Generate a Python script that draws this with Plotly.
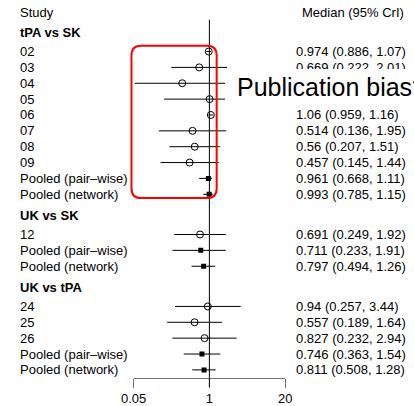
import math
import plotly.graph_objects as go

# ---- data -------------------------------------------------------------
group_names = ["tPA vs SK", "UK vs SK", "UK vs tPA"]
row_labels = [
    "02", "03", "04", "05", "06", "07", "08", "09",
    "Pooled (pair–wise)", "Pooled (network)",
    "12", "Pooled (pair–wise)", "Pooled (network)",
    "24", "25", "26", "Pooled (pair–wise)", "Pooled (network)",
]
row_group = [0] * 10 + [1] * 3 + [2] * 5
median = [0.974, 0.669, 0.342, 1.01, 1.06, 0.514, 0.56, 0.457, 0.961, 0.993,
          0.691, 0.711, 0.797,
          0.94, 0.557, 0.827, 0.746, 0.811]
lower = [0.886, 0.222, 0.0523, 0.167, 0.959, 0.136, 0.207, 0.145, 0.668, 0.785,
         0.249, 0.233, 0.494,
         0.257, 0.189, 0.232, 0.363, 0.508]
upper = [1.07, 2.01, 2.25, 6.08, 1.16, 1.95, 1.51, 1.44, 1.11, 1.15,
         1.92, 1.91, 1.26,
         3.44, 1.64, 2.94, 1.54, 1.28]
tick_values = [0.05, 1, 20]
tick_labels = ["0.05", "1", "20"]

# ---- layout constants ------------------------------------------------
W, H = 414, 406
FONT = "Liberation Sans, Arial, Helvetica, sans-serif"
UNIT_PX = 16.1          # pixel height of one row
FIRST_ROW_PX = 52.3     # pixel position of the first row
AXIS_PX = 383.3         # pixel position of the x axis line
GROUP_GAP = 2.535
HEADER_OFFSET = 1.17
TITLE_OFFSET = 1.3


def fmt(v):
    return f"{v:.3g}"


def px_x(px):
    return px / W


def px_y(py):
    return 1 - py / H


# row positions (in row units, growing downwards)
ypos, header_y = [], {}
prev = None
y = 0.0
for g in row_group:
    if prev is None:
        y = 0.0
    elif g != prev:
        y += GROUP_GAP
    else:
        y += 1.0
    if g != prev:
        header_y[g] = y - HEADER_OFFSET
    ypos.append(y)
    prev = g
title_y = header_y[0] - TITLE_OFFSET

pooled = [lab.startswith("Pooled") for lab in row_labels]

fig = go.Figure()

# credible interval whiskers
xs, ys = [], []
for lo, hi, yy in zip(lower, upper, ypos):
    xs += [lo, hi, None]
    ys += [yy, yy, None]
fig.add_trace(go.Scatter(x=xs, y=ys, mode="lines",
                         line=dict(color="black", width=1),
                         hoverinfo="skip", showlegend=False))

# study estimates (open circles) and pooled estimates (filled squares)
fig.add_trace(go.Scatter(
    x=[m for m, p in zip(median, pooled) if not p],
    y=[yy for yy, p in zip(ypos, pooled) if not p],
    mode="markers",
    marker=dict(symbol="circle-open", size=7, color="black",
                line=dict(width=1, color="black")),
    showlegend=False))
fig.add_trace(go.Scatter(
    x=[m for m, p in zip(median, pooled) if p],
    y=[yy for yy, p in zip(ypos, pooled) if p],
    mode="markers",
    marker=dict(symbol="square", size=5, color="black"),
    showlegend=False))

annotations = []


def label(text, xp, yy, anchor="left", bold=False, yref="y", size=13):
    annotations.append(dict(
        text=f"<b>{text}</b>" if bold else text,
        x=xp, xref="paper", y=yy, yref=yref,
        xanchor=anchor, yanchor="middle", showarrow=False,
        font=dict(family=FONT, size=size, color="black")))


label("Study", px_x(5.5), title_y)
label("Median (95% CrI)", px_x(413), title_y, anchor="right")
for g, name in enumerate(group_names):
    label(name, px_x(5.5), header_y[g], bold=True)
for lab, m, lo, hi, yy in zip(row_labels, median, lower, upper, ypos):
    label(lab, px_x(5.5), yy)
    label(f"{fmt(m)} ({fmt(lo)}, {fmt(hi)})", px_x(295), yy)

# call-out: white panel drawn over the rows, then its caption
annotations.append(dict(
    text=" ", x=px_x(223), xref="paper", y=px_y(70.5), yref="paper",
    xanchor="left", yanchor="top", showarrow=False,
    width=200, height=37.5, bgcolor="white", borderpad=0, borderwidth=0,
    font=dict(family=FONT, size=10, color="white")))
annotations.append(dict(
    text="Publication bias?", x=px_x(234), xref="paper",
    y=px_y(88.5), yref="paper", xanchor="left", yanchor="middle",
    showarrow=False, borderpad=0,
    font=dict(family=FONT, size=25, color="black")))

# rounded highlight around the tPA vs SK block
x0, x1, y0, y1, r = 124.5, 214.0, 46.5, 201.0, 10.0


def P(px, py):
    return f"{px_x(px):.5f},{px_y(py):.5f}"


path = (f"M {P(x0 + r, y0)} L {P(x1 - r, y0)} Q {P(x1, y0)} {P(x1, y0 + r)} "
        f"L {P(x1, y1 - r)} Q {P(x1, y1)} {P(x1 - r, y1)} "
        f"L {P(x0 + r, y1)} Q {P(x0, y1)} {P(x0, y1 - r)} "
        f"L {P(x0, y0 + r)} Q {P(x0, y0)} {P(x0 + r, y0)} Z")

shapes = [
    # line of no effect
    dict(type="line", xref="x", yref="paper", x0=1, x1=1,
         y0=px_y(393), y1=px_y(20), line=dict(color="black", width=1),
         layer="above"),
    dict(type="path", xref="paper", yref="paper", path=path,
         line=dict(color="#ff0000", width=2), layer="above"),
]

fig.update_layout(
    width=W, height=H,
    margin=dict(l=0, r=0, t=0, b=0),
    paper_bgcolor="white", plot_bgcolor="white",
    showlegend=False,
    shapes=shapes, annotations=annotations,
    xaxis=dict(type="log",
               domain=[126.7 / W, 286.0 / W],
               range=[math.log10(0.05), math.log10(20)],
               tickvals=tick_values, ticktext=tick_labels,
               showline=True, linecolor="#777777", linewidth=1,
               ticks="outside", ticklen=9, tickcolor="#777777",
               showgrid=False, zeroline=False,
               tickfont=dict(family=FONT, size=13, color="black")),
    yaxis=dict(domain=[1 - AXIS_PX / H, 1],
               range=[(AXIS_PX - FIRST_ROW_PX) / UNIT_PX, -FIRST_ROW_PX / UNIT_PX],
               visible=False),
)

fig.write_html("out.html")
